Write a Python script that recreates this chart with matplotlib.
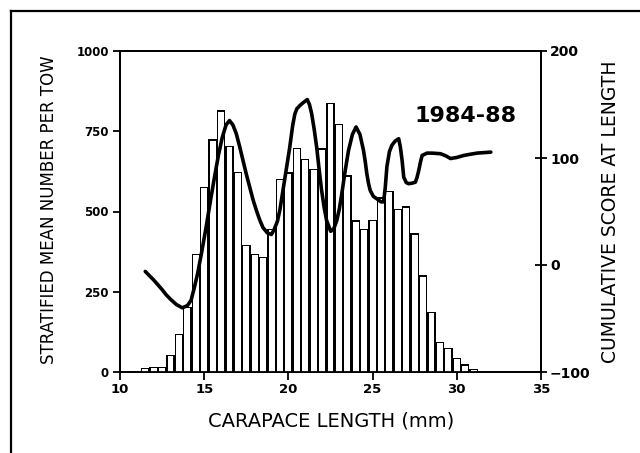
import numpy as np
import matplotlib
matplotlib.use("Agg")
import matplotlib.pyplot as plt
from matplotlib.lines import Line2D

# Length-frequency bars (0.5 mm classes)
length_mm = np.arange(11.5, 32.0, 0.5)
mean_per_tow = [12, 15, 15, 54, 119, 202, 368, 577, 725, 815,
                705, 624, 397, 368, 358, 446, 601, 622, 699, 663,
                632, 697, 839, 774, 613, 472, 446, 475, 544, 565,
                508, 516, 432, 301, 187, 95, 75, 45, 24, 10, 2]

# Cumulative score curve (right axis), traced point by point
score_x = [11.5, 12.0, 12.5, 12.75, 13.0, 13.35, 13.7, 14.0, 14.22, 14.4,
           14.61, 14.85, 15.11, 15.36, 15.61, 15.85, 16.07, 16.3, 16.5, 16.7,
           16.9, 17.1, 17.3, 17.5, 17.7, 17.9, 18.1, 18.3, 18.49, 18.75,
           18.99, 19.15, 19.35, 19.5, 19.68, 19.9, 20.08, 20.25, 20.38, 20.5,
           20.68, 20.9, 21.12, 21.25, 21.38, 21.53, 21.68, 21.82, 21.97, 22.12,
           22.27, 22.51, 22.7, 22.87, 23.02, 23.17, 23.37, 23.57, 23.8, 24.02,
           24.25, 24.46, 24.56, 24.66, 24.76, 24.86, 25.05, 25.26, 25.5, 25.65,
           25.75, 25.85, 26.0, 26.15, 26.35, 26.55, 26.65, 26.75, 26.85, 27.0,
           27.14, 27.35, 27.54, 27.64, 27.74, 27.84, 27.94, 28.24, 28.6, 29.03,
           29.35, 29.63, 30.0, 30.42, 30.8, 31.22, 31.6, 32.02]
score_y = [-6, -14, -23, -28, -32, -37, -40, -38, -33, -22,
           -8, 12, 35, 59, 82, 103, 119, 131, 135, 131,
           123, 111, 98, 85, 73, 61, 51, 42, 35, 30,
           28.5, 33, 41, 52, 70, 92, 110, 130, 141, 146,
           149, 152, 154.6, 150, 141.5, 127, 110, 90, 70, 54,
           41.5, 31.5, 34, 41.5, 52, 66.5, 88, 107, 122, 129,
           122, 107, 97, 85, 76, 69.6, 64, 61.8, 59, 59,
           72, 92, 106, 112, 116, 118, 110, 98, 82, 77,
           76, 76.5, 77.4, 82, 88.4, 96, 102.4, 104.6, 104.5, 104,
           102, 99.5, 100.5, 102.4, 103.5, 104.6, 105, 105.5]

fig = plt.figure(figsize=(6.4, 4.53), dpi=100)
ax = fig.add_axes([120/640, 1 - 372/453, 421/640, 321/453])

# bars: black block with a narrower white block inside -> thick sides, thin top
ax.bar(length_mm, mean_per_tow, width=0.5, color="black", linewidth=0, zorder=2)
inner = np.clip(np.array(mean_per_tow) - 4, 0, None)
ax.bar(length_mm, inner, width=0.35, color="white", linewidth=0, zorder=3)

ax.set_xlim(10, 35)
ax.set_ylim(0, 1000)
ax.set_xticks([10, 15, 20, 25, 30, 35])
ax.set_yticks([0, 250, 500, 750, 1000])

ax2 = ax.twinx()
ax2.plot(score_x, score_y, color="black", lw=2.6, solid_joinstyle="round",
         solid_capstyle="round", zorder=5)
ax2.set_ylim(-100, 200)
ax2.set_yticks([-100, 0, 100, 200])

for a in (ax, ax2):
    for s in a.spines.values():
        s.set_linewidth(1.3)

ax.tick_params(axis="x", direction="inout", length=12, width=1.3, pad=2, labelsize=9.5)
ax.tick_params(axis="y", direction="out", length=5, width=1.3, pad=3, labelsize=8.5)
ax2.tick_params(axis="y", direction="inout", length=9, width=1.3, pad=2, labelsize=10)
for lab in ax.get_xticklabels() + ax.get_yticklabels() + ax2.get_yticklabels():
    lab.set_fontweight("bold")

ax.text(30.5, 797, "1984-88", fontsize=16, fontweight="bold", ha="center", va="center", zorder=6)

fig.text(331/640, 1 - 421/453, "CARAPACE LENGTH (mm)", fontsize=14, ha="center", va="center")
fig.text(49/640, 1 - 210/453, "STRATIFIED MEAN NUMBER PER TOW", fontsize=12, rotation=90,
         ha="center", va="center")
fig.text(610/640, 1 - 212/453, "CUMULATIVE SCORE AT LENGTH", fontsize=13.5, rotation=90,
         ha="center", va="center")

# page frame (left and top edges)
x0, y0 = 11/640, 1 - 11/453
fig.add_artist(Line2D([x0, x0], [0, y0], color="black", lw=1.6, transform=fig.transFigure))
fig.add_artist(Line2D([x0, 1], [y0, y0], color="black", lw=1.6, transform=fig.transFigure))

fig.savefig("out.png", dpi=100)
